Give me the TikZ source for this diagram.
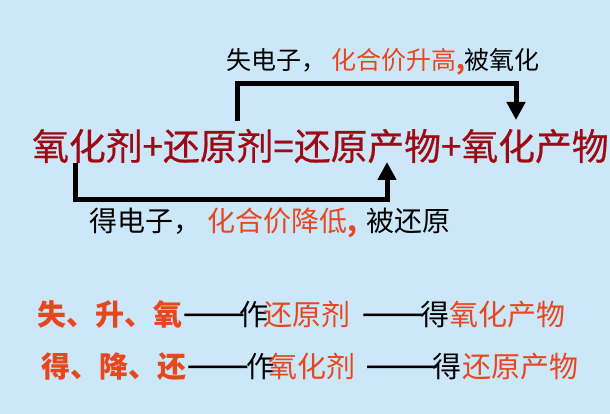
\documentclass[tikz,border=0pt]{standalone}
\usepackage{fontspec}
\setmainfont{Noto Sans CJK SC}
\newfontfamily\eqfont{Noto Sans CJK SC}[FakeBold=0.6]
\newfontfamily\dashfont{Noto Sans CJK SC}[FakeBold=3]
\usetikzlibrary{arrows.meta}
\definecolor{bg}{HTML}{CCE8F8}
\definecolor{eqred}{HTML}{9E0A14}
\definecolor{hot}{HTML}{E8461E}
\newcommand{\dashpair}{\scalebox{1.26}[1]{\dashfont ——}}
\newcommand{\dashtriple}{{\dashfont ———}}
\tikzset{
  txt/.style={inner sep=0pt, anchor=base west},
  eq/.style={txt, text=eqred, font=\eqfont\fontsize{36.8}{40}\selectfont},
  lab/.style={txt, text=black},
  rule/.style={txt, font=\fontsize{29}{32}\selectfont},
  rulebold/.style={rule, text=hot, font=\fontsize{29}{32}\bfseries\selectfont},
  flow/.style={line width=5pt, line join=miter, -{Triangle[width=18pt,length=18pt]}}
}
\begin{document}
\begin{tikzpicture}[x=1pt, y=-1pt]
\fill[bg] (0,0) rectangle (610,414);
\useasboundingbox (0,0) rectangle (610,414);
% main equation
\node[eq] (main) at (32,160) {氧化剂+还原剂=还原产物+氧化产物};
% top label
\node[lab, font=\fontsize{25}{28}\selectfont] (toplab) at (226,70)
  {失电子，\hspace{5pt}\textcolor{hot}{化合价升高\textbf{,}}被氧化};
% bottom label
\node[lab, font=\fontsize{28}{30}\selectfont] (botlab) at (89,231)
  {得电子，\hspace{6pt}\textcolor{hot}{化合价降低\textbf{,}}\hspace{9pt}被还原};
% connectors
\coordinate (tA) at (237,121);
\coordinate (tB) at (516,120);
\coordinate (bA) at (75,163);
\coordinate (bB) at (387,162);
\draw[flow] (tA) |- (237,84) -| (tB);
\draw[flow] (bA) |- (387,200) -| (bB);
% rule lines
\node[rulebold] (r1a) at (37,325) {失、升、氧};
\node[rule] (r1b) at (183,323) {\dashpair};
\node[rule] (r1c) at (239,325) {作};
\node[rule, text=hot] (r1d) at (263,325) {还原剂};
\node[rule] (r1e) at (362,323) {\dashpair};
\node[rule] (r1f) at (420,325) {得};
\node[rule, text=hot] (r1g) at (449,325) {氧化产物};
\node[rulebold] (r2a) at (41,377) {得、降、还};
\node[rule] (r2b) at (187,375) {\dashpair};
\node[rule] (r2c) at (246,377) {作};
\node[rule, text=hot] (r2d) at (268,377) {氧化剂};
\node[rule] (r2e) at (366,375) {\dashtriple};
\node[rule] (r2f) at (432,377) {得};
\node[rule, text=hot] (r2g) at (462,377) {还原产物};
\end{tikzpicture}
\end{document}
